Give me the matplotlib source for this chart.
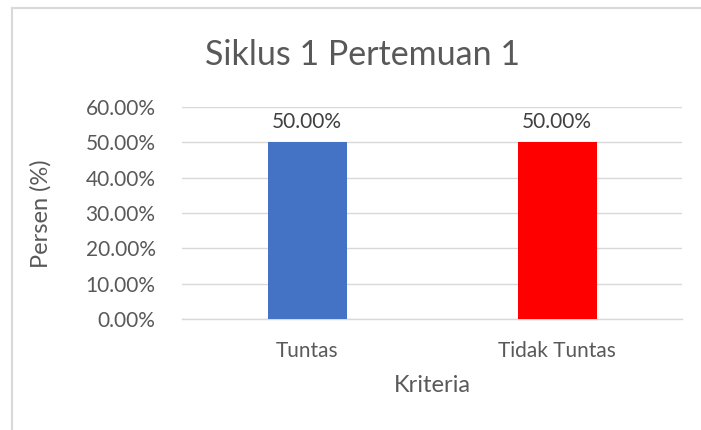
import matplotlib.pyplot as plt
from matplotlib.lines import Line2D
from matplotlib.ticker import FuncFormatter

categories = ["Tuntas", "Tidak Tuntas"]
values = [50.0, 50.0]
colors = ["#4472C4", "#FF0000"]
yticks = [0, 10, 20, 30, 40, 50, 60]

plt.rcParams["font.family"] = ["Lato", "DejaVu Sans"]
TXT = "#595959"
GRID = "#D9D9D9"

fig = plt.figure(figsize=(7.01, 4.30), dpi=100)
W, H = 701, 430
ax = fig.add_axes([182 / W, 1 - 319 / H, 500 / W, 212 / H])

x = list(range(len(categories)))
bars = ax.bar(x, values, width=0.316, color=colors, zorder=3)
for b, v in zip(bars, values):
    ax.text(b.get_x() + b.get_width() / 2, v + 3.0, "%.2f%%" % v,
            ha="center", va="bottom", fontsize=15, color="#404040")

ax.set_xlim(-0.5, 1.5)
ax.set_ylim(0, 60)
ax.set_yticks(yticks)
ax.yaxis.set_major_formatter(FuncFormatter(lambda v, p: "%.2f%%" % v))
ax.set_xticks(x)
ax.set_xticklabels(categories)
ax.tick_params(axis="y", length=0, pad=19, labelsize=15, labelcolor=TXT)
ax.tick_params(axis="x", length=0, pad=16, labelsize=15, labelcolor=TXT)
ax.grid(axis="y", color=GRID, linewidth=1, zorder=0)
for s in ["top", "right", "left"]:
    ax.spines[s].set_visible(False)
ax.spines["bottom"].set_color(GRID)
ax.spines["bottom"].set_linewidth(1)

fig.text(362 / W, 1 - 55 / H, "Siklus 1 Pertemuan 1", ha="center", va="center",
         fontsize=24.5, color=TXT)
fig.text(41 / W, 1 - 214 / H, "Persen (%)", ha="center", va="center",
         rotation=90, fontsize=17, color=TXT)
fig.text(432 / W, 1 - 385 / H, "Kriteria", ha="center", va="center",
         fontsize=17, color=TXT)

# outer chart border (only top and left visible)
fig.add_artist(Line2D([11.5 / W, 11.5 / W], [0, 1 - 7.5 / H], color=GRID,
                      linewidth=1.5, transform=fig.transFigure))
fig.add_artist(Line2D([11.5 / W, 1], [1 - 7.5 / H, 1 - 7.5 / H], color=GRID,
                      linewidth=1.5, transform=fig.transFigure))

fig.savefig("out.png", dpi=100)
